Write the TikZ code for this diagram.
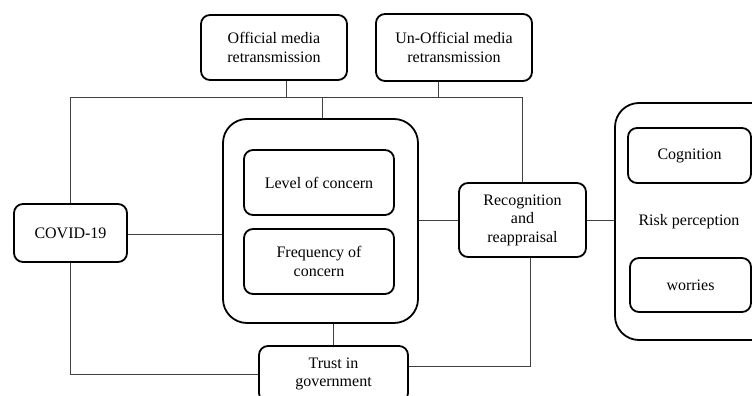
\documentclass[tikz,border=0pt]{standalone}
\usepackage{fontspec}
\setmainfont{Liberation Serif}
\begin{document}
\begin{tikzpicture}[x=1pt,y=-1pt,
  box/.style={draw=black, line width=1.8pt, rounded corners=9pt, align=center, inner sep=0pt, font=\fontsize{16}{18.5}\selectfont},
  bigbox/.style={draw=black, line width=1.8pt, rounded corners=24pt, inner sep=0pt},
  conn/.style={draw=black!75, line width=1pt}]
\useasboundingbox (0,0) rectangle (752,396);
\clip (0,0) rectangle (752,396);
% big containers
\node[bigbox, minimum width=195pt, minimum height=204pt] (big) at (320.5,221) {};
\node[bigbox, minimum width=160pt, minimum height=237pt] (risk) at (695,221.5) {};
% boxes
\node[box, minimum width=146pt, minimum height=65pt] (off) at (274,47.5) {Official media\\retransmission};
\node[box, minimum width=156pt, minimum height=67pt] (unoff) at (454,47.5) {Un-Official media\\retransmission};
\node[box, minimum width=113pt, minimum height=58pt] (covid) at (70.5,233) {COVID-19};
\node[box, minimum width=150pt, minimum height=65pt] (level) at (319,182.5) {Level of concern};
\node[box, minimum width=150pt, minimum height=65pt] (freq) at (319,261.5) {Frequency of\\concern};
\node[box, minimum width=127pt, minimum height=74pt] (recog) at (522.5,220) {Recognition\\and\\reappraisal};
\node[box, minimum width=149pt, minimum height=56pt] (trust) at (333.5,374) {Trust in\\government};
\node[box, minimum width=123pt, minimum height=55pt] (cog) at (689.5,155.5) {Cognition};
\node[box, minimum width=121pt, minimum height=54pt] (wor) at (690.5,285) {worries};
\node[font=\fontsize{16}{18.5}\selectfont] (risklabel) at (689,222) {Risk perception};
% connectors
\coordinate (topy) at (0,97);
\coordinate (boty) at (0,374);
\draw[conn] (covid.north) -- (covid.north |- topy) -- (recog.north |- topy) -- (recog.north);
\draw[conn] ([xshift=12pt]off.south) -- ([xshift=12pt]off.south |- topy);
\draw[conn] ([xshift=-16pt]unoff.south) -- ([xshift=-16pt]unoff.south |- topy);
\draw[conn] ([xshift=1.5pt]big.north |- topy) -- ([xshift=1.5pt]big.north);
\draw[conn] (covid.east |- 0,234) -- (big.west |- 0,234);
\draw[conn] (big.east |- recog.west) -- (recog.west);
\draw[conn] (recog.east) -- (risk.west |- recog.east);
\draw[conn] (trust.north |- big.south) -- (trust.north);
\draw[conn] (covid.south) -- (covid.south |- boty) -- (trust.west |- boty);
\draw[conn] ([xshift=7.5pt]recog.south) |- ([yshift=8pt]trust.east);
\end{tikzpicture}
\end{document}
